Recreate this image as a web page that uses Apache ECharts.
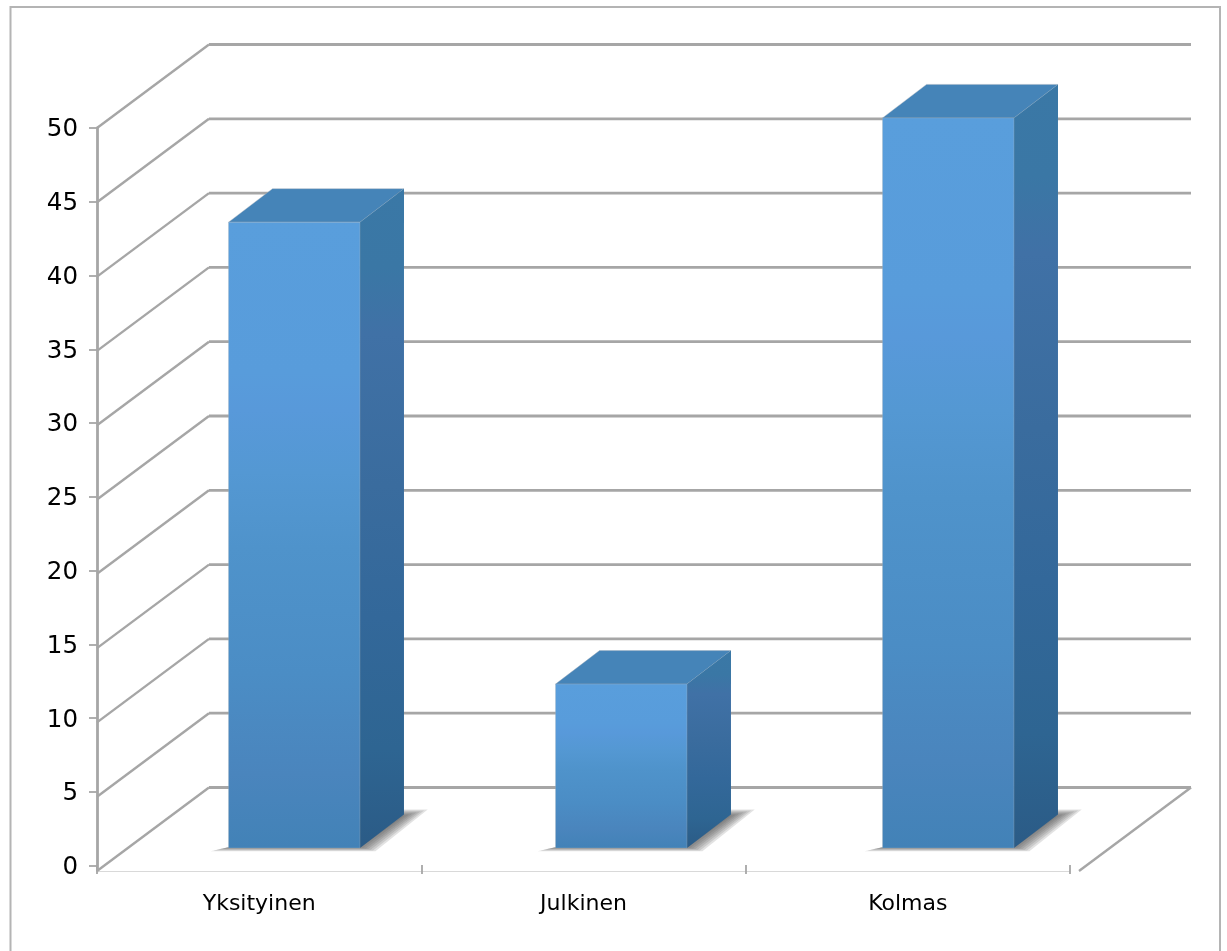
<!DOCTYPE html>
<html>
<head>
<meta charset="utf-8">
<style>html,body{margin:0;padding:0;background:#fff;overflow:hidden}#c{width:1227px;height:951px}</style>
<script src="https://cdn.jsdelivr.net/npm/echarts@6/dist/echarts.min.js"></script>
</head>
<body>
<div id="c"></div>
<script>
const categories = ['Yksityinen', 'Julkinen', 'Kolmas'];
const values = [42, 11, 49];
const yTicks = [0, 5, 10, 15, 20, 25, 30, 35, 40, 45, 50];

const WALL = { dx: 112, dy: -83.5 };
const BAR = { dx: 44, dy: -33.5, ratio: 0.402 };
const SHADOW_LAYERS = [0, 1, 2, 3, 4, 5, 6];
const LINE = '#a6a6a6';
const FONT = '"DejaVu Sans", sans-serif';

const vGrad = (stops) => ({
  type: 'linear', x: 0, y: 0, x2: 0, y2: 1,
  colorStops: stops.map(([offset, color]) => ({ offset, color }))
});
const frontFill = vGrad([[0, '#599edc'], [0.24, '#589cdb'], [0.3, '#5899da'], [0.4, '#5498d3'], [0.52, '#4f93cb'], [0.72, '#4b8dc5'], [0.88, '#4a85bd'], [1, '#4282b7']]);
const sideFill = vGrad([[0, '#3a78a6'], [0.12, '#3a77a5'], [0.22, '#4071a6'], [0.45, '#3a6c9e'], [0.65, '#33689a'], [0.85, '#2e6592'], [1, '#2b5b86']]);

function renderWall(params, api) {
  const v = api.value(0);
  const a = api.coord([0, v]);
  const b = api.coord([1, v]);
  const back1 = [a[0] + WALL.dx, a[1] + WALL.dy];
  const back2 = [b[0] + WALL.dx, b[1] + WALL.dy];
  const children = [{
    type: 'polyline',
    shape: { points: [a, back1] },
    style: { stroke: LINE, lineWidth: 2.4, fill: null }
  }, {
    type: 'polyline',
    shape: { points: [back1, back2] },
    style: { stroke: LINE, lineWidth: 2.8, fill: null }
  }];
  if (v === 0) {
    children.push({
      type: 'polyline',
      shape: { points: [back2, b] },
      style: { stroke: LINE, lineWidth: 2.4, fill: null }
    });
  }
  return { type: 'group', children };
}

function renderBar(params, api) {
  const i = api.value(0);
  const top = api.coord([i, api.value(1)]);
  const base = api.coord([i, 0]);
  const w = api.size([1, 0])[0] * BAR.ratio;
  const x0 = top[0] - w / 2, x1 = top[0] + w / 2;
  const yT = top[1], yB = base[1];
  const dx = BAR.dx, dy = BAR.dy;
  const edge = 'rgba(165,175,185,0.4)';
  const shadows = SHADOW_LAYERS.map(e => ({
    type: 'polygon',
    shape: { points: [
      [x0 - e * 3, yB - 1 + e * 0.7],
      [x1 + 1 + e * 2.4, yB - 1 + e * 0.7],
      [x1 + dx + 1 + e * 3.8, yB + dy + 1 - e * 1],
      [x1 + dx - 3, yB + dy + 1 - e * 1]
    ] },
    style: { fill: 'rgba(85,85,85,0.17)' }
  }));
  return {
    type: 'group',
    children: shadows.concat([{
      type: 'polygon',
      shape: { points: [[x0, yT], [x1, yT], [x1 + dx, yT + dy], [x0 + dx, yT + dy]] },
      style: { fill: '#4584b8', stroke: edge, lineWidth: 1 }
    }, {
      type: 'polygon',
      shape: { points: [[x1, yT], [x1 + dx, yT + dy], [x1 + dx, yB + dy], [x1, yB]] },
      style: { fill: sideFill }
    }, {
      type: 'polygon',
      shape: { points: [[x0, yT], [x1, yT], [x1, yB], [x0, yB]] },
      style: { fill: frontFill, stroke: edge, lineWidth: 0.8 }
    }])
  };
}

const hiddenVal = { type: 'value', min: 0, max: 50, show: false };
const hiddenCat = { type: 'category', data: categories, show: false };

const option = {
  animation: false,
  backgroundColor: '#ffffff',
  graphic: [{
    type: 'rect', silent: true, z: 0,
    shape: { x: 10.5, y: 7, width: 1209.5, height: 1000 },
    style: { fill: null, stroke: '#b4b4b4', lineWidth: 2 }
  }],
  grid: [
    { left: 97, width: 973, top: 128, height: 737.7 },   // value-axis ticks
    { left: 97, width: 973, top: 128, height: 743 },     // category axis
    { left: 97, width: 982, top: 128, height: 743 },     // walls
    { left: 130.75, width: 981, top: 103, height: 745 }, // bars
    { left: 97, width: 973, top: 130, height: 737.7 }    // value-axis labels
  ],
  xAxis: [
    { ...hiddenCat, gridIndex: 0 },
    {
      type: 'category', gridIndex: 1, data: categories,
      axisLine: { show: true, lineStyle: { color: '#d9d9d9', width: 1.2 } },
      axisTick: { show: false },
      axisLabel: { color: '#000', fontFamily: FONT, fontSize: 22, margin: 22 }
    },
    {
      type: 'category', gridIndex: 1, data: categories, position: 'bottom', offset: -6,
      axisLine: { show: false },
      axisTick: { show: true, length: 9, lineStyle: { color: LINE, width: 1.8 } },
      axisLabel: { show: false }
    },
    { type: 'value', gridIndex: 2, min: 0, max: 1, show: false },
    { ...hiddenCat, gridIndex: 3 },
    { ...hiddenCat, gridIndex: 4 }
  ],
  yAxis: [
    {
      type: 'value', gridIndex: 0, min: 0, max: 50, interval: 5,
      axisLine: { show: false },
      axisTick: { show: true, length: 8, lineStyle: { color: LINE, width: 1.8 } },
      splitLine: { show: false },
      axisLabel: { show: false }
    },
    {
      type: 'value', gridIndex: 1, min: 0, max: 50, interval: 5,
      axisLine: { show: true, onZero: false, lineStyle: { color: LINE, width: 2.8 } },
      axisTick: { show: false }, axisLabel: { show: false }, splitLine: { show: false }
    },
    { ...hiddenVal, gridIndex: 2 },
    { ...hiddenVal, gridIndex: 3 },
    {
      type: 'value', gridIndex: 4, min: 0, max: 50, interval: 5,
      axisLine: { show: false }, axisTick: { show: false }, splitLine: { show: false },
      axisLabel: { color: '#000', fontFamily: FONT, fontSize: 24.5, margin: 19 }
    }
  ],
  series: [{
    type: 'custom', silent: true, clip: false, z: 2,
    xAxisIndex: 3, yAxisIndex: 2,
    data: yTicks.map(v => [v]),
    encode: { x: -1, y: 0 },
    renderItem: renderWall
  }, {
    type: 'custom', silent: true, clip: false, z: 3,
    xAxisIndex: 4, yAxisIndex: 3,
    data: values.map((v, i) => [i, v]),
    encode: { x: 0, y: 1 },
    renderItem: renderBar
  }]
};

echarts.init(document.getElementById('c'), null, { renderer: 'canvas' }).setOption(option);
</script>
</body>
</html>
